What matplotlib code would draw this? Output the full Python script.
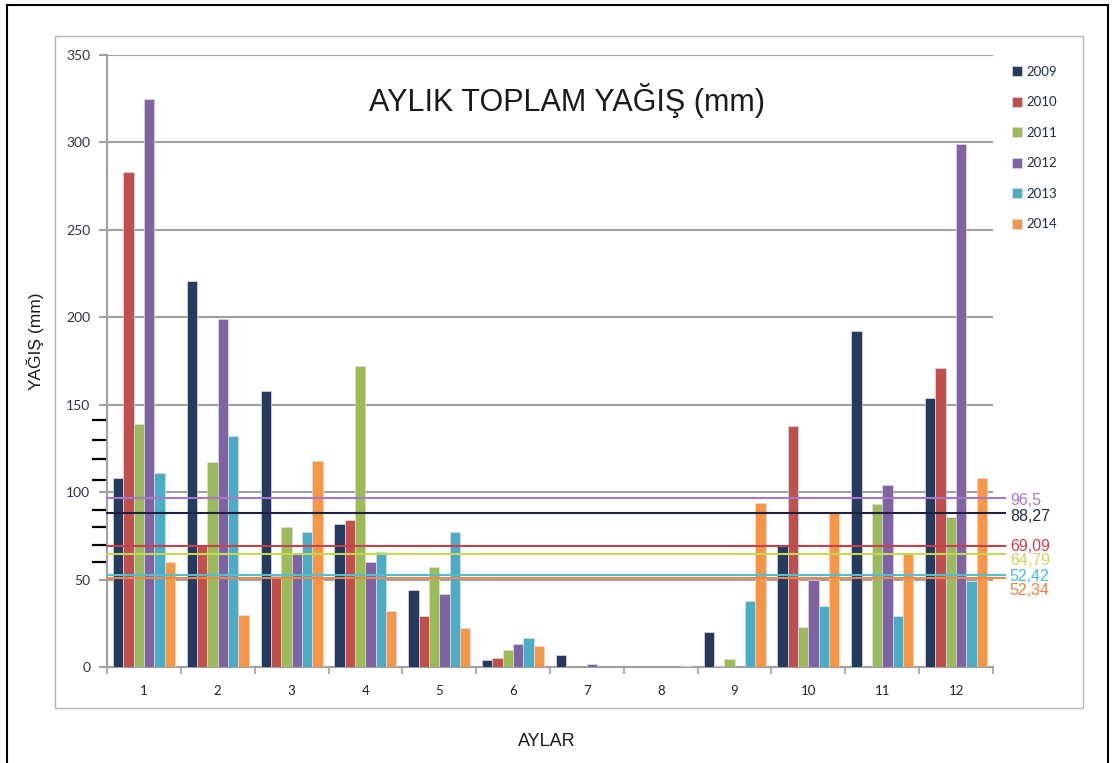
import numpy as np
import matplotlib
matplotlib.use("Agg")
from matplotlib import pyplot as plt
from matplotlib.patches import Rectangle
import matplotlib.transforms as mtransforms

# aylar ve yillik seriler
months = ["1", "2", "3", "4", "5", "6", "7", "8", "9", "10", "11", "12"]
years = ["2009", "2010", "2011", "2012", "2013", "2014"]

y2009 = [108, 221, 158, 82, 44, 4, 7, 0, 20, 70, 192, 154]
y2010 = [283, 69, 52, 84, 29, 5, 0, 0, 0.5, 138, 0, 171]
y2011 = [139, 117, 80, 172, 57, 9.5, 0, 0, 4.5, 23, 93, 86]
y2012 = [325, 199, 65, 60, 42, 13, 1.5, 0, 0, 50, 104, 299]
y2013 = [111, 132, 77, 66, 77, 16.5, 0, 0, 38, 35, 29, 49]
y2014 = [60, 30, 118, 32, 22.5, 12, 0, 0.5, 94, 88, 65, 108]
series = [y2009, y2010, y2011, y2012, y2013, y2014]

bar_colors = ["#263a5e", "#c0504d", "#9bbb59", "#8064a2", "#4bacc6", "#f79646"]

# ortalama cizgileri
avg_values = [96.5, 88.27, 69.09, 64.79, 52.42, 52.34]
avg_labels = ["96,5", "88,27", "69,09", "64,79", "52,42", "52,34"]
avg_colors = ["#a878c8", "#1e2240", "#c8404c", "#c5d84e", "#4cc0d4", "#f08848"]
avg_text_colors = ["#a878c8", "#1e2a40", "#c8404c", "#c8d860", "#40c0d8", "#f08040"]
avg_label_shift = [-1.5, -3, 0, -5, -0.5, -11]  # points
avg_line_shift = [0, 0, 0, 0, 0, -1.8]  # points, turuncu cizgi biraz asagida gorunsun

# siyah kisa cizgiler (sol eksende)
black_ticks = [60, 70, 80, 90, 107, 119, 130, 141]

fig = plt.figure(figsize=(11.16, 7.63), dpi=100)
ax = fig.add_axes([107 / 1116, 1 - 667 / 763, 886 / 1116, 612 / 763])

x = np.arange(len(months))
w = 0.14
for i, (vals, c) in enumerate(zip(series, bar_colors)):
    ax.bar(x + (i - 2.5) * w, vals, w, color=c, edgecolor="#dcdce8",
           linewidth=0.5, label=years[i], zorder=3)

xr = [-0.5, 11.66]
for v, c, dy in zip(avg_values, avg_colors, avg_line_shift):
    tr = ax.transData + mtransforms.ScaledTranslation(0, dy / 72, fig.dpi_scale_trans)
    ax.plot(xr, [v, v], color=c, lw=1.5, clip_on=False, zorder=4, transform=tr)

trans = mtransforms.blended_transform_factory(ax.transAxes, ax.transData)
for v, lab, c, dy in zip(avg_values, avg_labels, avg_text_colors, avg_label_shift):
    ax.annotate(lab, xy=(1.019, v), xycoords=trans, xytext=(0, dy),
                textcoords="offset points", color=c, fontsize=11.5,
                family="Liberation Sans", va="center", ha="left",
                annotation_clip=False)

ax.set_xlim(-0.5, 11.5)
ax.set_ylim(0, 350)
ax.set_yticks(range(0, 351, 50))
ax.set_yticks(black_ticks, minor=True)
ax.yaxis.grid(True, which="major", color="#a0a0a0", lw=1.5, zorder=0)

ax.set_xticks(x)
ax.set_xticklabels(months, family="Lato", fontsize=9.5, color="#222222")
ax.set_xticks(np.arange(-0.5, 12, 1), minor=True)
ax.tick_params(axis="x", which="major", length=0, pad=13)
ax.tick_params(axis="x", which="minor", length=5, width=1.2, color="#a0a0a0")
ax.tick_params(axis="y", which="major", length=6, width=1.5, color="#a0a0a0",
               labelsize=10, labelcolor="#303048", pad=6)
ax.tick_params(axis="y", which="minor", length=11, width=1.6, color="black")
for t in ax.get_yticklabels():
    t.set_family("Lato")

for s in ["top", "right"]:
    ax.spines[s].set_visible(False)
for s in ["left", "bottom"]:
    ax.spines[s].set_color("#a0a0a0")
    ax.spines[s].set_linewidth(1.5)

ax.text(0.519, 0.925, "AYLIK TOPLAM YAĞIŞ (mm)", transform=ax.transAxes,
        fontsize=22, family="Liberation Sans", color="#1a1a1a",
        ha="center", va="center")

fig.text(35 / 1116, 1 - 341 / 763, "YAĞIŞ (mm)", rotation=90, fontsize=12.5,
         family="Liberation Sans", color="#1a1a1a", ha="center", va="center")
fig.text(547 / 1116, 1 - 741 / 763, "AYLAR", fontsize=13,
         family="Liberation Sans", color="#1a1a1a", ha="center", va="center")

leg = fig.legend(loc="upper left", bbox_to_anchor=(1000 / 1116, 1 - 54 / 763),
                 frameon=False, handlelength=0.8, handleheight=0.8,
                 handletextpad=0.3, labelspacing=1.4,
                 prop={"family": "Lato", "size": 9.5})
for t in leg.get_texts():
    t.set_color("#1e2b45")

# cerceveler
fig.patches.append(Rectangle((55 / 1116, 1 - 708 / 763), 1028 / 1116, 672 / 763,
                             transform=fig.transFigure, fill=False,
                             edgecolor="#b4b4b4", lw=1))
fig.patches.append(Rectangle((7 / 1116, -0.1), 1101 / 1116, 1.1 - 5 / 763,
                             transform=fig.transFigure, fill=False,
                             edgecolor="black", lw=1.5))

fig.savefig("out.png", dpi=100)
